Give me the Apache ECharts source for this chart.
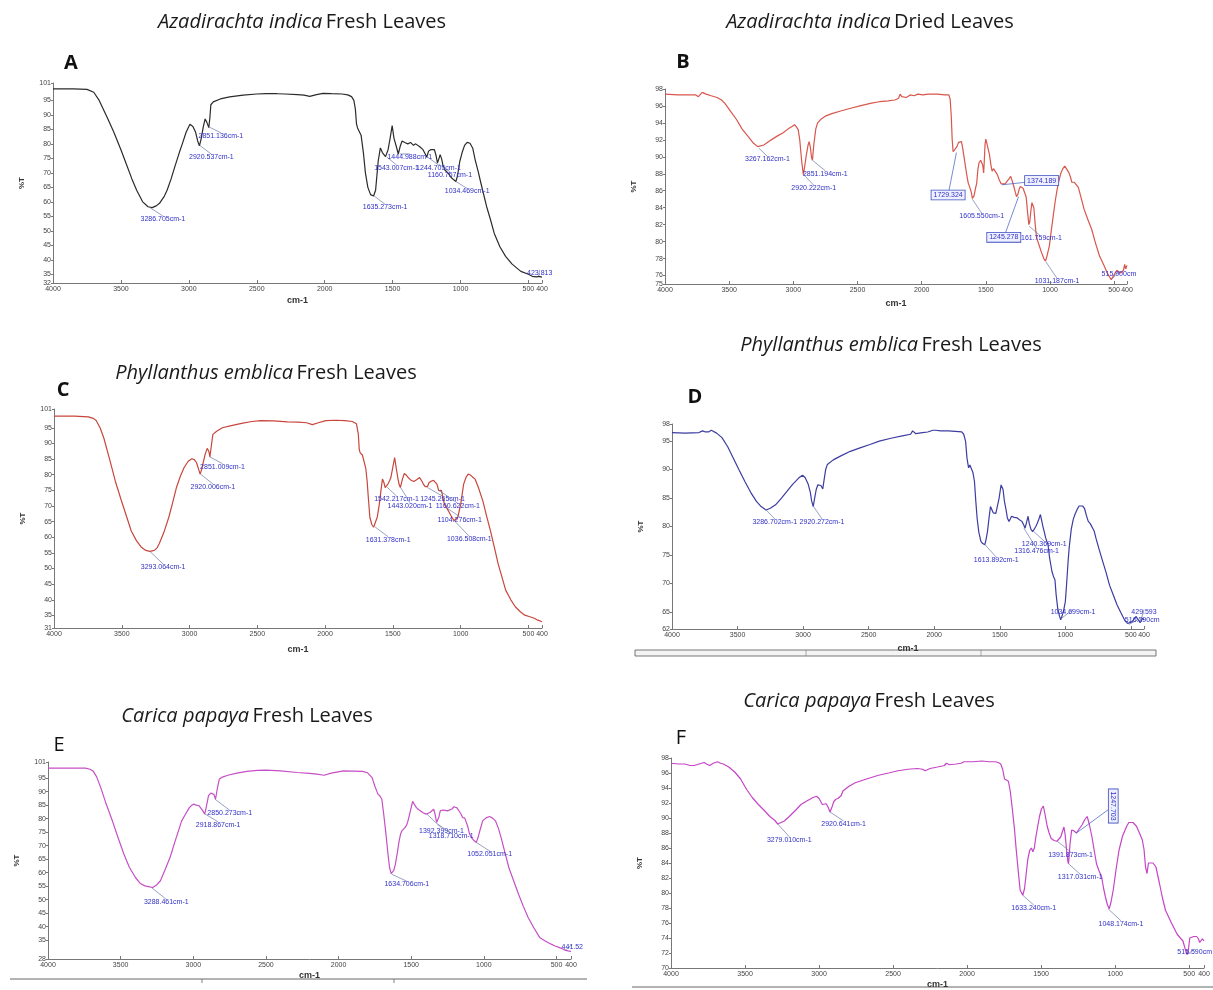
<!DOCTYPE html>
<html>
<head>
<meta charset="utf-8">
<title>FTIR spectra of leaves</title>
<script src="https://cdn.jsdelivr.net/npm/echarts@6/dist/echarts.min.js"></script>
<style>
html, body { margin: 0; padding: 0; background: #fff; }
#chart { width: 1213px; height: 990px; }
</style>
</head>
<body>
<div id="chart"></div>
<script>
// wavenumber ticks shared by every panel
var xTicks = [4000, 3500, 3000, 2500, 2000, 1500, 1000, 500, 400];

// %T ticks per panel
var yTicksA = [32, 35, 40, 45, 50, 55, 60, 65, 70, 75, 80, 85, 90, 95, 101];
var yTicksB = [75, 76, 78, 80, 82, 84, 86, 88, 90, 92, 94, 96, 98];
var yTicksC = [31, 35, 40, 45, 50, 55, 60, 65, 70, 75, 80, 85, 90, 95, 101];
var yTicksD = [62, 65, 70, 75, 80, 85, 90, 95, 98];
var yTicksE = [28, 30, 35, 40, 45, 50, 55, 60, 65, 70, 75, 80, 85, 90, 95, 101];
var yTicksF = [70, 72, 74, 76, 78, 80, 82, 84, 86, 88, 90, 92, 94, 96, 98];

// spectra [wavenumber, %T]
var specA = [[4000,99],[3850,99],[3750,98.8],[3700,97.8],[3660,95],[3600,89],[3552,84],[3500,78],[3468,74],[3420,68],[3384,64],[3340,60],[3300,58.3],[3270,58],[3240,58.6],[3216,59.5],[3180,62],[3160,64],[3130,68],[3104,72],[3070,77],[3048,80],[3020,84],[2992,86.8],[2970,86],[2950,84],[2935,81],[2922,79.3],[2908,82],[2893,86],[2880,88.6],[2868,87.5],[2853,85.6],[2845,89],[2838,93.5],[2820,94.5],[2768,95.5],[2700,96.2],[2600,96.8],[2500,97.2],[2432,97.3],[2350,97.3],[2292,97.2],[2200,97],[2152,96.8],[2110,96.4],[2060,97],[2012,97.4],[1950,97.3],[1872,97.2],[1830,96.9],[1802,96.3],[1785,95],[1774,92],[1766,87],[1758,85.5],[1745,85],[1732,83],[1715,77],[1700,70],[1682,65],[1662,62.5],[1640,62],[1625,64],[1606,74],[1590,78.6],[1575,77],[1552,75.6],[1533,78],[1518,82],[1503,86.3],[1490,82],[1472,79],[1458,76.5],[1445,79],[1430,81],[1410,80.5],[1388,80],[1368,80.5],[1346,79.5],[1330,80],[1318,80],[1300,79],[1276,78],[1248,75.5],[1235,77.5],[1220,78],[1192,78],[1180,76],[1170,73.4],[1158,75],[1150,76.3],[1140,75],[1130,72.8],[1115,71],[1093,70],[1070,68.5],[1050,67.6],[1034,67],[1022,69],[1005,74],[988,77],[970,79.5],[951,80.5],[930,80.2],[910,78.5],[892,74.5],[870,70.5],[850,66.5],[808,58.4],[780,54],[752,49.2],[710,44.5],[668,41.2],[620,38.5],[556,36],[500,35],[472,34.3],[440,34.1],[424,34.3],[400,34]];

var specB = [[4000,97.4],[3900,97.3],[3834,97.3],[3760,97.3],[3740,97.1],[3729,97.3],[3710,97.6],[3700,97.6],[3680,97.4],[3640,97.2],[3594,97.0],[3560,96.7],[3533,96.3],[3490,95.4],[3443,94.4],[3400,93.3],[3353,92.4],[3310,91.6],[3278,91.2],[3267,91.0],[3230,91.4],[3172,92],[3120,92.5],[3082,92.8],[3040,93.3],[3007,93.6],[2990,93.8],[2975,93.5],[2962,93.2],[2950,92],[2935,89.5],[2922,87.9],[2912,88.8],[2901,90],[2885,91.4],[2877,91.8],[2868,91.2],[2858,89.9],[2851,89.6],[2840,91.5],[2825,93.3],[2811,94],[2780,94.5],[2751,94.8],[2700,95.1],[2631,95.4],[2560,95.7],[2481,96],[2400,96.3],[2330,96.5],[2260,96.6],[2209,96.7],[2180,96.9],[2168,97.4],[2155,97.1],[2140,97],[2119,97],[2090,97.3],[2060,97.2],[2029,97.4],[1990,97.3],[1950,97.4],[1878,97.4],[1820,97.3],[1788,97.3],[1778,96.8],[1770,95],[1762,92],[1755,90.6],[1740,90.5],[1725,91.2],[1713,91.7],[1700,91.9],[1690,91.8],[1680,91],[1667,89.7],[1650,88],[1637,86.9],[1625,86.4],[1613,85.8],[1605,85.1],[1592,85.4],[1580,86.3],[1571,86.9],[1562,88.5],[1553,89.3],[1540,89.6],[1532,89.5],[1524,89],[1517,88.1],[1512,89.5],[1506,91.5],[1500,92.1],[1492,91.6],[1480,90.8],[1472,90.3],[1460,89],[1451,88.3],[1440,88.6],[1427,88.5],[1410,87.9],[1396,87.3],[1380,86.8],[1366,86.6],[1350,86.8],[1336,86.9],[1320,87.4],[1306,87.7],[1295,87.2],[1282,86.5],[1270,85.8],[1261,85.3],[1250,85.6],[1240,86.2],[1231,86.5],[1222,86.6],[1210,86.3],[1198,85.8],[1186,85.3],[1175,83.5],[1165,82],[1158,82.3],[1150,83.5],[1141,84.6],[1133,84.5],[1126,84],[1115,82],[1106,80.6],[1090,79.8],[1066,78.7],[1048,78],[1035,77.7],[1025,78.2],[1005,79.5],[990,81.3],[975,83],[960,84.7],[945,86.1],[930,87.2],[915,88.1],[900,88.6],[885,88.9],[870,88.7],[855,88.2],[840,87.6],[830,87],[810,87],[795,86.9],[779,86.4],[760,85.3],[734,83.8],[705,82.6],[674,81.4],[645,79.8],[614,78.3],[580,77.2],[554,76.3],[535,75.8],[523,75.5],[512,75.6],[493,76.3],[478,76.6],[463,76.5],[450,76.3],[439,76.2],[428,76.6],[418,77.3],[410,76.8],[400,77.2]];

var specC = [[4000,98.7],[3850,98.7],[3746,98.5],[3710,98],[3689,97.3],[3660,95],[3633,91.8],[3590,85],[3548,78],[3505,72],[3463,66.4],[3430,62],[3393,59],[3355,56.8],[3322,55.8],[3293,55.5],[3260,55.8],[3240,56.6],[3223,58],[3190,61.5],[3153,66.4],[3125,71],[3096,76],[3068,79.5],[3040,82.3],[3010,84.3],[2983,85.1],[2965,84.8],[2949,83.9],[2935,82],[2922,80.2],[2910,81.8],[2899,83.9],[2885,86.5],[2870,88.4],[2858,87.5],[2850,85.7],[2840,89],[2828,92.9],[2800,93.9],[2758,95],[2700,95.6],[2616,96.4],[2540,97],[2475,97.3],[2380,97.2],[2277,96.9],[2200,96.8],[2136,96.6],[2094,96],[2050,96.6],[1995,97.3],[1920,97.4],[1854,97.3],[1800,97],[1769,96.3],[1755,93],[1748,88],[1741,87],[1725,86.3],[1713,86],[1700,82],[1690,78],[1680,72],[1670,66.4],[1655,64],[1642,63.2],[1628,63.4],[1615,66.5],[1600,70.6],[1588,75],[1577,78.6],[1566,77.5],[1557,75.9],[1547,76.2],[1537,77],[1525,78],[1515,79.1],[1500,82.5],[1487,85.5],[1475,82],[1464,79.1],[1455,77],[1445,75.9],[1430,78.5],[1416,80.4],[1400,79.8],[1388,79.1],[1365,78.2],[1346,77.8],[1325,78.4],[1303,79.1],[1290,78.2],[1275,77],[1262,76.2],[1255,75.9],[1245,76.2],[1233,77.5],[1215,78],[1200,78.2],[1190,78.6],[1175,77],[1162,74.9],[1152,75],[1142,75],[1130,72.5],[1120,70.6],[1104,69.4],[1091,68.5],[1070,66.8],[1049,65.3],[1036,64.8],[1021,66.4],[1000,70.5],[978,77],[960,79.2],[944,80.2],[925,79.8],[910,79.2],[894,78.6],[870,76],[837,71.7],[810,67],[781,62.2],[750,56.5],[724,51.6],[700,48],[668,43.1],[630,40],[597,37.8],[560,36.2],[527,35.1],[490,34.6],[457,34.1],[430,33.5],[400,33]];

var specD = [[4000,96.5],[3900,96.4],[3795,96.5],[3766,96.8],[3745,96.6],[3722,96.6],[3700,96.9],[3685,96.9],[3660,96.4],[3619,95.6],[3575,94],[3532,92],[3490,90],[3444,87.9],[3400,86],[3356,84.4],[3320,83.5],[3283,82.9],[3250,83.2],[3210,83.8],[3165,85],[3122,86.2],[3080,87.4],[3034,88.5],[3005,89],[2985,88.6],[2961,87.4],[2945,86],[2935,84.5],[2923,83.5],[2912,85],[2900,86.5],[2888,87.3],[2875,87.5],[2864,87.2],[2850,86.6],[2838,88.5],[2828,90],[2815,90.9],[2770,91.7],[2712,92.4],[2640,93.2],[2566,93.8],[2490,94.4],[2419,95],[2330,95.5],[2244,95.9],[2180,96.2],[2165,96.8],[2156,96.7],[2140,96.3],[2127,96.2],[2090,96.5],[2050,96.6],[2010,96.9],[1990,96.9],[1950,96.8],[1893,96.8],[1840,96.7],[1790,96.6],[1775,96.2],[1761,95],[1750,92],[1738,90.3],[1728,90.8],[1717,90.9],[1705,89.5],[1693,87.9],[1683,84.5],[1673,81.5],[1660,79],[1644,77.4],[1630,77],[1614,76.8],[1604,77.8],[1594,79.1],[1582,81.5],[1571,83.5],[1560,83.2],[1550,82.4],[1541,82.4],[1530,82.3],[1518,82.6],[1505,85],[1490,87.3],[1483,87.6],[1475,86.5],[1465,84.5],[1454,83.2],[1442,81.5],[1430,80.9],[1420,81.3],[1410,81.8],[1390,81.6],[1366,81.5],[1350,81.2],[1331,80.9],[1318,80.3],[1307,79.7],[1295,80.8],[1284,81.8],[1275,80.5],[1262,79.5],[1249,79.1],[1240,79.3],[1225,80],[1213,80.6],[1200,81.4],[1190,82.1],[1180,81],[1170,79.9],[1161,79.1],[1150,78],[1132,76.8],[1120,74.5],[1102,72.1],[1090,71.2],[1079,70.6],[1070,68],[1058,65.6],[1045,64.3],[1035,63.6],[1029,63.8],[1015,65],[1000,66.8],[990,70],[980,73.5],[971,76.2],[955,79.5],[940,81.2],[927,82.1],[910,83],[895,83.6],[883,83.8],[868,83.6],[854,83.2],[840,82],[825,80.9],[810,80.5],[795,80.3],[780,79.2],[766,77.9],[745,76.2],[722,74.4],[690,72],[663,69.7],[635,68],[605,66.2],[575,64.8],[546,63.5],[525,63],[511,62.8],[495,63.2],[480,63.6],[473,63.8],[462,64.2],[452,64.1],[440,63.5],[429,63.1],[418,63.3],[410,63.9],[400,63.6]];

var specE = [[4000,98.7],[3850,98.7],[3743,98.7],[3710,98.3],[3690,97.7],[3665,95.5],[3637,91.5],[3600,85.5],[3557,79.2],[3518,73],[3478,66.9],[3440,62],[3398,58.2],[3365,56],[3332,55.1],[3300,54.7],[3279,54.5],[3255,55.3],[3226,57],[3195,61],[3160,65.6],[3120,72.5],[3080,79.2],[3050,82],[3027,84.1],[3010,85],[2995,85.4],[2980,85],[2961,84.8],[2948,84.3],[2934,82.9],[2921,81.7],[2908,85],[2895,88.5],[2880,89.5],[2868,89.9],[2858,89],[2847,87.2],[2835,91],[2821,94.6],[2800,95.4],[2762,96.1],[2700,96.9],[2630,97.5],[2560,97.9],[2497,98],[2400,97.7],[2285,97.1],[2200,96.8],[2150,96.5],[2100,96.1],[2050,96.9],[1967,97.7],[1900,97.6],[1835,97.5],[1800,97],[1769,95.2],[1750,92],[1729,89.1],[1715,88.4],[1702,87.2],[1690,82],[1676,75.5],[1660,67],[1649,61.9],[1638,59.6],[1630,59.4],[1620,60.8],[1609,63.1],[1595,67.5],[1583,71.8],[1573,74.3],[1564,75.5],[1553,75.8],[1543,76.7],[1530,77.8],[1522,79.2],[1505,83],[1490,86.4],[1478,85.3],[1464,84.1],[1450,83.4],[1437,82.9],[1418,82.2],[1398,81.7],[1385,82],[1371,82.3],[1358,82.9],[1345,83.5],[1335,81.5],[1325,78.6],[1318,78],[1310,80.5],[1300,82.9],[1283,83.2],[1265,83.1],[1250,82.9],[1239,82.7],[1220,83.6],[1205,84.4],[1199,84.4],[1185,84],[1172,83.5],[1160,82],[1146,80.4],[1132,80.3],[1119,80.2],[1110,77],[1098,74.3],[1082,72.8],[1066,71.8],[1052,71.2],[1040,73],[1025,76],[1008,79.2],[985,80.3],[960,80.8],[940,80.2],[920,79.2],[900,76.5],[881,73],[855,67.5],[828,61.9],[795,57],[761,52],[728,47.5],[695,43.4],[655,39.5],[616,36],[575,34.6],[536,33.5],[510,32.8],[483,32.3],[460,31.8],[443,31.3],[420,31],[400,30.8]];

var specF = [[4000,97.3],[3950,97.2],[3908,97.2],[3870,97],[3843,97],[3810,97.2],[3777,97.4],[3760,97.2],[3738,97],[3715,97.3],[3686,97.5],[3665,97.3],[3646,97.2],[3610,96.8],[3568,96.1],[3530,95.2],[3489,93.8],[3450,92.7],[3410,91.8],[3370,91],[3332,90.2],[3300,89.7],[3279,89.2],[3266,89.2],[3235,89.6],[3201,90.2],[3160,91],[3122,91.8],[3080,92.3],[3044,92.7],[3018,92.9],[3000,92.6],[2978,91.8],[2965,91.7],[2952,91.9],[2940,91.5],[2926,90.8],[2912,91.5],[2900,92.2],[2887,92.5],[2872,92.6],[2860,92.6],[2850,93],[2839,93.6],[2800,94.2],[2756,94.7],[2680,95.2],[2598,95.7],[2530,96],[2467,96.3],[2400,96.5],[2336,96.6],[2300,96.5],[2284,96.3],[2250,96.6],[2200,96.8],[2153,97],[2140,97.3],[2120,97.1],[2074,97.2],[2040,97.3],[2022,97.5],[1960,97.5],[1900,97.6],[1850,97.5],[1812,97.5],[1790,97.4],[1773,97.2],[1760,96.5],[1747,95.2],[1735,95],[1721,94.9],[1708,93.5],[1694,91.1],[1680,88.5],[1668,85.7],[1655,83],[1642,80.4],[1624,79.7],[1612,80.6],[1603,82.2],[1590,84.5],[1577,85.7],[1566,86],[1556,85.5],[1546,86],[1537,87.3],[1524,88.8],[1511,90.2],[1498,91.2],[1485,91.6],[1472,90.3],[1459,88.9],[1446,88],[1433,87.3],[1413,87],[1393,86.9],[1380,87.1],[1367,87.5],[1356,88.2],[1346,88.8],[1338,87.8],[1328,85.7],[1320,84.3],[1315,83.9],[1305,86.5],[1294,88.4],[1280,88.3],[1262,88],[1245,88.5],[1223,89.1],[1205,89.8],[1189,90.2],[1175,89.2],[1157,87.5],[1140,85.5],[1126,83.9],[1110,83],[1092,82.2],[1078,80.6],[1066,79.5],[1052,78.4],[1040,77.9],[1028,78.8],[1013,80.4],[995,83],[974,85.7],[950,87.6],[922,88.9],[908,89.4],[896,89.6],[880,89.4],[856,88.9],[836,88],[817,87.1],[805,85.8],[795,83.5],[785,82.6],[775,84],[764,84.2],[745,84],[725,83.5],[700,81.2],[680,79.3],[660,77.7],[620,76],[581,74.5],[560,74],[542,73.6],[528,72.6],[515,71.8],[505,72.5],[496,74],[489,74.1],[470,74.2],[450,74.2],[438,73.9],[429,73.4],[420,73.5],[411,73.9],[400,73.6]];

// peak labels [peak wn, peak %T, label wn, label %T, text]
var notesA = [
  [3286, 58.0, 3191, 54.1, '3286.705cm-1'],
  [2920, 79.5, 2834, 75.4, '2920.537cm-1'],
  [2851, 85.8, 2764, 82.8, '2851.136cm-1'],
  [1635, 62.0, 1555, 58.1, '1635.273cm-1'],
  [1543, 75.5, 1471, 71.7, '1543.007cm-1'],
  [1445, 76.5, 1373, 75.5, '1444.988cm-1'],
  [1244, 75.5, 1162, 71.7, '1244.705cm-1'],
  [1160, 73.0, 1078, 69.4, '1160.757cm-1'],
  [1034, 67.0, 951, 63.6, '1034.469cm-1'],
  [424, 34.5, 417, 35.5, '423.813']
];
var notesB = [
  [3267, 91.0, 3202, 89.7, '3267.162cm-1'],
  [2920, 87.9, 2841, 86.3, '2920.222cm-1'],
  [2851, 89.6, 2751, 88.0, '2851.194cm-1'],
  [1605, 85.0, 1532, 83.0, '1605.550cm-1'],
  [1161, 81.8, 1080, 80.4, '1161.759cm-1'],
  [1031, 77.6, 945, 75.3, '1031.187cm-1'],
  [515, 75.6, 463, 76.2, '515.900cm']
];
var boxesB = [
  [1729, 90.5, 1794, 85.5, '1729.324'],
  [1374, 86.7, 1065, 87.2, '1374.189'],
  [1245, 85.3, 1360, 80.5, '1245.278']
];
var notesC = [
  [3293, 55.5, 3195, 50.5, '3293.064cm-1'],
  [2920, 80.2, 2828, 76.1, '2920.006cm-1'],
  [2851, 85.7, 2757, 82.6, '2851.009cm-1'],
  [1631, 63.3, 1535, 59.2, '1631.378cm-1'],
  [1542, 76.0, 1473, 72.2, '1542.217cm-1'],
  [1443, 75.9, 1374, 70.1, '1443.020cm-1'],
  [1245, 75.9, 1134, 72.2, '1245.265cm-1'],
  [1160, 75.0, 1021, 69.9, '1160.622cm-1'],
  [1104, 69.4, 1007, 65.6, '1104.276cm-1'],
  [1036, 64.8, 936, 59.3, '1036.508cm-1']
];
var notesD = [
  [3286, 83.0, 3216, 80.8, '3286.702cm-1'],
  [2920, 83.5, 2856, 80.8, '2920.272cm-1'],
  [1613, 76.8, 1527, 74.1, '1613.892cm-1'],
  [1240, 79.1, 1161, 76.9, '1240.369cm-1'],
  [1316, 79.7, 1219, 75.6, '1316.476cm-1'],
  [1034, 63.8, 941, 64.9, '1034.699cm-1'],
  [516, 62.8, 414, 63.5, '516.290cm'],
  [429, 63.1, 400, 64.9, '429.593']
];
var notesE = [
  [3288, 54.5, 3186, 49.0, '3288.461cm-1'],
  [2918, 81.7, 2829, 77.7, '2918.867cm-1'],
  [2850, 87.2, 2749, 82.0, '2850.273cm-1'],
  [1634, 59.4, 1530, 55.7, '1634.706cm-1'],
  [1392, 81.7, 1292, 75.5, '1392.399cm-1'],
  [1318, 78.0, 1225, 73.4, '1318.710cm-1'],
  [1052, 71.2, 960, 66.9, '1052.051cm-1'],
  [441, 31.2, 391, 32.3, '441.52']
];
var notesF = [
  [3279, 89.2, 3201, 87.1, '3279.010cm-1'],
  [2926, 90.8, 2834, 89.2, '2920.641cm-1'],
  [1624, 79.7, 1550, 78.0, '1633.240cm-1'],
  [1391, 86.9, 1301, 85.1, '1391.873cm-1'],
  [1315, 83.9, 1236, 82.1, '1317.031cm-1'],
  [1048, 77.9, 961, 75.9, '1048.174cm-1'],
  [515, 71.8, 463, 72.1, '515.590cm']
];
var boxesF = [
  [1262, 88.0, 1013, 91.6, '1247.703']
];

var panels = [
  { name: 'A', bold: true,  species: 'Azadirachta indica', kind: 'Fresh Leaves', spec: specA, notes: notesA, boxes: [], color: '#2b2b2b', yMin: 32, yMax: 101, yTicks: yTicksA,
    grid: [53, 83, 489, 200], title: [302, 22], letter: [71, 63], xGap: 13 },
  { name: 'B', bold: true,  species: 'Azadirachta indica', kind: 'Dried Leaves', spec: specB, notes: notesB, boxes: boxesB, color: '#d8564c', yMin: 75, yMax: 98, yTicks: yTicksB,
    grid: [665, 89, 462, 195], title: [870, 22], letter: [683, 62], xGap: 15 },
  { name: 'C', bold: true,  species: 'Phyllanthus emblica', kind: 'Fresh Leaves', spec: specC, notes: notesC, boxes: [], color: '#c8463c', yMin: 31, yMax: 101, yTicks: yTicksC,
    grid: [54, 409, 488, 219], title: [266, 373], letter: [63, 390], xGap: 17 },
  { name: 'D', bold: true,  species: 'Phyllanthus emblica', kind: 'Fresh Leaves', spec: specD, notes: notesD, boxes: [], color: '#3c3ca2', yMin: 62, yMax: 98, yTicks: yTicksD,
    grid: [672, 424, 472, 205], title: [891, 345], letter: [695, 397], xGap: 15 },
  { name: 'E', bold: false, species: 'Carica papaya', kind: 'Fresh Leaves', spec: specE, notes: notesE, boxes: [], color: '#c64fc6', yMin: 28, yMax: 101, yTicks: yTicksE,
    grid: [48, 762, 523, 197], title: [247, 716], letter: [59, 745], xGap: 12 },
  { name: 'F', bold: false, species: 'Carica papaya', kind: 'Fresh Leaves', spec: specF, notes: notesF, boxes: boxesF, color: '#c645c6', yMin: 70, yMax: 98, yTicks: yTicksF,
    grid: [671, 758, 533, 210], title: [869, 701], letter: [681, 738], xGap: 12 }
];

var noteFont = '7px "Liberation Sans", Arial, sans-serif';

// leader line + blue text for each labelled peak
function noteRenderer(list, boxed, rotated) {
  return function (params, api) {
    var n = list[params.dataIndex];
    var p = api.coord([n[0], n[1]]);
    var q = api.coord([n[2], n[3]]);
    var text = {
      type: 'text', x: q[0], y: q[1],
      style: { text: n[4], font: noteFont, fill: '#3030c8', align: 'center', verticalAlign: 'middle' }
    };
    if (boxed) {
      text.style.backgroundColor = '#eef0ff';
      text.style.borderColor = '#3a4cc0';
      text.style.borderWidth = 0.8;
      text.style.padding = [1, 2];
    }
    if (rotated) {
      text.rotation = -Math.PI / 2;
    }
    return {
      type: 'group',
      children: [
        { type: 'line', shape: { x1: p[0], y1: p[1], x2: q[0], y2: boxed ? q[1] : q[1] - 3 },
          style: { stroke: boxed ? '#3a5cc0' : '#6a78a8', lineWidth: 0.7 } },
        text
      ]
    };
  };
}

var grids = [], xAxes = [], yAxes = [], series = [], graphics = [];
var tickFont = { fontSize: 7, color: '#444', fontFamily: 'Liberation Sans' };
function plain(v) { return String(v); }

panels.forEach(function (p, i) {
  grids.push({ left: p.grid[0], top: p.grid[1], width: p.grid[2], height: p.grid[3],
    containLabel: false, outerBoundsMode: 'none', show: false });
  xAxes.push({
    type: 'value', gridIndex: i, min: 400, max: 4000, inverse: true,
    name: 'cm-1', nameLocation: 'middle', nameGap: p.xGap,
    nameTextStyle: { fontSize: 9, fontWeight: 'bold', color: '#333', fontFamily: 'Liberation Sans' },
    axisLine: { show: true, onZero: false, lineStyle: { color: '#777', width: 1 } },
    axisTick: { show: true, inside: true, length: 3, customValues: xTicks, lineStyle: { color: '#777' } },
    axisLabel: Object.assign({ customValues: xTicks, formatter: plain, margin: 3, hideOverlap: false, showMinLabel: true, showMaxLabel: true }, tickFont),
    splitLine: { show: false }
  });
  yAxes.push({
    type: 'value', gridIndex: i, min: p.yMin, max: p.yMax,
    name: '%T', nameLocation: 'middle', nameGap: 27, nameRotate: 90,
    nameTextStyle: { fontSize: 8, fontWeight: 'bold', color: '#333', fontFamily: 'Liberation Sans' },
    axisLine: { show: true, onZero: false, lineStyle: { color: '#777', width: 1 } },
    axisTick: { show: true, length: 2, customValues: p.yTicks, lineStyle: { color: '#777' } },
    axisLabel: Object.assign({ customValues: p.yTicks, formatter: plain, margin: 2, hideOverlap: false, showMinLabel: true, showMaxLabel: true }, tickFont),
    splitLine: { show: false }
  });
  series.push({
    type: 'line', xAxisIndex: i, yAxisIndex: i, data: p.spec,
    showSymbol: false, symbol: 'none', smooth: false, silent: true,
    lineStyle: { color: p.color, width: 1.2 }
  });
  series.push({
    type: 'custom', xAxisIndex: i, yAxisIndex: i, silent: true, z: 5,
    data: p.notes.map(function (n) { return n.slice(0, 4); }),
    renderItem: noteRenderer(p.notes, false, false)
  });
  if (p.boxes.length) {
    series.push({
      type: 'custom', xAxisIndex: i, yAxisIndex: i, silent: true, z: 6,
      data: p.boxes.map(function (n) { return n.slice(0, 4); }),
      renderItem: noteRenderer(p.boxes, true, p.name === 'F')
    });
  }
  graphics.push({
    type: 'text', x: p.title[0], y: p.title[1],
    style: {
      text: '{i|' + p.species + '} {n|' + p.kind + '}',
      align: 'center', verticalAlign: 'middle',
      rich: {
        i: { fontStyle: 'italic', fontSize: 20, fontFamily: 'Open Sans', fill: '#1a1a1a' },
        n: { fontSize: 20, fontFamily: 'Open Sans', fill: '#1a1a1a' }
      }
    }
  });
  graphics.push({
    type: 'text', x: p.letter[0], y: p.letter[1],
    style: { text: p.name, align: 'center', verticalAlign: 'middle',
      font: (p.bold ? 'bold ' : '') + '20px "Open Sans", sans-serif', fill: '#111' }
  });
});

// remains of the instrument report table under D, E and F
graphics.push(
  { type: 'rect', shape: { x: 635, y: 650, width: 521, height: 6 }, style: { fill: '#f4f4f4', stroke: '#555', lineWidth: 0.8 } },
  { type: 'line', shape: { x1: 806, y1: 650, x2: 806, y2: 656 }, style: { stroke: '#777', lineWidth: 0.6 } },
  { type: 'line', shape: { x1: 981, y1: 650, x2: 981, y2: 656 }, style: { stroke: '#777', lineWidth: 0.6 } },
  { type: 'line', shape: { x1: 10, y1: 979, x2: 587, y2: 979 }, style: { stroke: '#666', lineWidth: 1 } },
  { type: 'line', shape: { x1: 202, y1: 979, x2: 202, y2: 983 }, style: { stroke: '#666', lineWidth: 0.8 } },
  { type: 'line', shape: { x1: 394, y1: 979, x2: 394, y2: 983 }, style: { stroke: '#666', lineWidth: 0.8 } },
  { type: 'line', shape: { x1: 632, y1: 987, x2: 1213, y2: 987 }, style: { stroke: '#666', lineWidth: 1 } }
);

var chart = echarts.init(document.getElementById('chart'), null, { renderer: 'canvas' });
chart.setOption({
  animation: false,
  backgroundColor: '#ffffff',
  grid: grids,
  xAxis: xAxes,
  yAxis: yAxes,
  series: series,
  graphic: graphics
});
</script>
</body>
</html>
